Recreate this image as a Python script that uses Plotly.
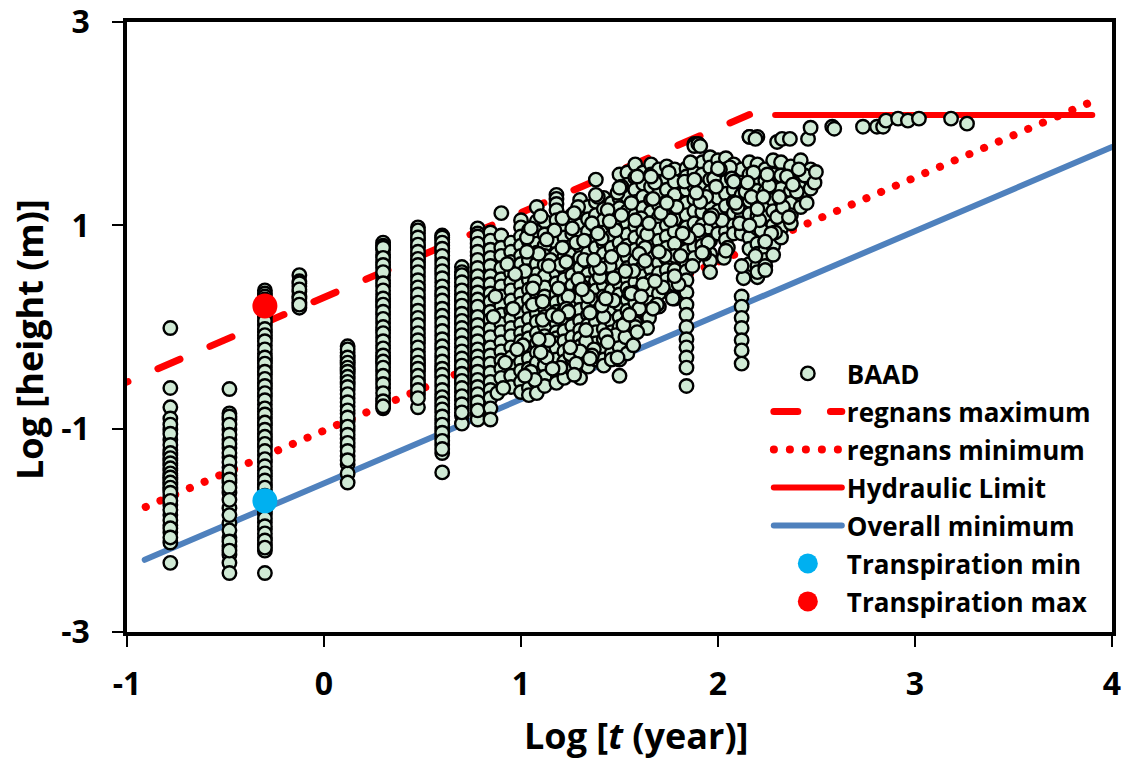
import plotly.graph_objects as go

# column positions (log t) and heights (log m)
t_values = [-0.78, -0.48, -0.30, -0.125, 0.12, 0.30, 0.477, 0.60, 0.70, 0.78]
h_a = [-0.01, -0.60, -0.79, -0.90, -1.01, -1.11, -1.21, -1.26, -1.31, -1.36, -1.41, -1.46, -1.50, -1.55, -1.60, -1.67, -1.75, -1.85, -1.95, -2.02, -2.12, -2.32,
       -0.96, -1.05, -1.16, -1.24, -1.29, -1.34, -1.39, -1.44, -1.48, -1.53, -1.58, -1.63, -1.71, -1.80, -1.90, -1.98, -2.07]
h_b = [-0.61, -0.85, -0.91, -1.01, -1.11, -1.19, -1.28, -1.38, -1.46, -1.53, -1.63, -1.78, -1.93, -2.07, -2.16, -2.24, -2.32, -2.42,
       -0.88, -0.96, -1.06, -1.15, -1.24, -1.33, -1.42, -1.50, -1.58, -1.70, -1.85, -2.00, -2.11, -2.20]
h_c = [0.36, 0.33, 0.30, 0.27, 0.10, 0.02, -0.05, -0.11, -0.18, -0.26, -0.33, -0.40, -0.47, -0.55, -0.61, -0.68, -0.76, -0.83, -0.90, -0.97, -1.05, -1.11, -1.18, -1.26, -1.33, -1.41, -1.47, -1.55, -1.62, -1.69, -1.77, -1.84, -1.92, -1.99, -2.07, -2.14, -2.20, -2.42,
       0.24, 0.18, 0.14, 0.06, -0.02, -0.08, -0.14, -0.22, -0.30, -0.36, -0.44, -0.51, -0.58, -0.65, -0.72, -0.80, -0.86, -0.94, -1.01, -1.08, -1.15, -1.22, -1.30, -1.37, -1.44, -1.51, -1.58, -1.66, -1.73, -1.81, -1.88, -1.96, -2.03, -2.10, -2.17]
h_d = [0.51, 0.45, 0.40, 0.35, 0.30, 0.24, 0.19, 0.43, 0.37, 0.28, 0.22]
h_e = [-0.19, -0.25, -0.28, -0.33, -0.37, -0.42, -0.46, -0.51, -0.56, -0.62, -0.70, -0.78, -0.85, -0.93, -1.02, -1.10, -1.18, -1.27, -1.35, -1.44, -1.53,
       -0.22, -0.30, -0.35, -0.40, -0.44, -0.49, -0.54, -0.59, -0.66, -0.74, -0.82, -0.89, -0.98, -1.06, -1.14, -1.22, -1.31]
h_f = [0.83, 0.80, 0.76, 0.71, 0.64, 0.58, 0.51, 0.46, 0.40, 0.32, 0.25, 0.19, 0.12, 0.04, -0.03, -0.10, -0.18, -0.25, -0.31, -0.36, -0.44, -0.52, -0.60, -0.70, -0.76, -0.80,
       0.78, 0.68, 0.61, 0.54, 0.43, 0.36, 0.28, 0.22, 0.15, 0.08, 0.00, -0.06, -0.14, -0.21, -0.28, -0.34, -0.40, -0.48, -0.56, -0.65, -0.73, -0.78]
h_g = [0.98, 0.92, 0.85, 0.78, 0.70, 0.64, 0.58, 0.50, 0.42, 0.36, 0.28, 0.20, 0.12, 0.06, -0.02, -0.10, -0.16, -0.24, -0.32, -0.38, -0.44, -0.52, -0.58, -0.66, -0.79,
       0.95, 0.88, 0.81, 0.74, 0.67, 0.61, 0.54, 0.46, 0.39, 0.32, 0.24, 0.16, 0.09, 0.02, -0.06, -0.13, -0.20, -0.28, -0.35, -0.41, -0.48, -0.55, -0.62, -0.70]
h_h = [0.90, 0.86, 0.80, 0.74, 0.66, 0.58, 0.52, 0.44, 0.36, 0.30, 0.22, 0.14, 0.08, 0.00, -0.08, -0.16, -0.22, -0.30, -0.38, -0.44, -0.50, -0.58, -0.66, -0.72, -0.78, -0.84, -0.92, -1.00, -1.08, -1.16, -1.24, -1.43,
       0.88, 0.83, 0.77, 0.70, 0.62, 0.55, 0.48, 0.40, 0.33, 0.26, 0.18, 0.11, 0.04, -0.04, -0.12, -0.19, -0.26, -0.34, -0.41, -0.47, -0.54, -0.62, -0.69, -0.75, -0.81, -0.88, -0.96, -1.04, -1.12, -1.20]
h_i = [0.59, 0.54, 0.48, 0.40, 0.32, 0.25, 0.17, 0.10, 0.03, -0.05, -0.12, -0.20, -0.28, -0.34, -0.42, -0.50, -0.56, -0.64, -0.72, -0.80, -0.87, -0.95,
       0.51, 0.44, 0.36, 0.28, 0.21, 0.13, 0.06, -0.01, -0.08, -0.16, -0.24, -0.31, -0.38, -0.46, -0.53, -0.60, -0.68, -0.76, -0.84]
h_j = [0.97, 0.92, 0.86, 0.78, 0.70, 0.62, 0.55, 0.46, 0.38, 0.30, 0.24, 0.15, 0.06, -0.02, -0.10, -0.18, -0.26, -0.32, -0.40, -0.48, -0.56, -0.62, -0.70, -0.78, -0.85, -0.91,
       0.89, 0.82, 0.74, 0.66, 0.58, 0.50, 0.42, 0.34, 0.27, 0.20, 0.10, 0.02, -0.06, -0.14, -0.22, -0.29, -0.36, -0.44, -0.52, -0.59, -0.66, -0.74, -0.82]

dense_t = [0.845, 0.90, 0.95, 1.00, 1.04, 1.08, 1.12, 1.18, 1.22, 1.26, 1.30, 1.34, 1.38, 1.42, 1.46, 1.50, 1.54, 1.58, 1.62, 1.66, 1.70, 1.74, 1.78, 1.84, 1.88, 1.92, 1.96, 2.00, 2.04, 2.08, 2.12, 2.16, 2.20, 2.24, 2.28, 2.32, 2.37, 2.42, 2.47]
d00 = [0.93, 0.85, 0.76, 0.68, 0.60, 0.50, 0.42, 0.33, 0.25, 0.15, 0.07, -0.02, -0.10, -0.20, -0.28, -0.36, -0.45, -0.54, -0.62, -0.70, -0.80, -0.91]
d01 = [1.12, 0.90, 0.78, 0.70, 0.58, 0.47, 0.40, 0.30, 0.21, 0.12, 0.03, -0.05, -0.15, -0.24, -0.33, -0.41, -0.50]
d02 = [0.83, 0.74, 0.64, 0.53, 0.44, 0.36, 0.26, 0.16, 0.08, -0.01, -0.09, -0.20, -0.30, -0.39, -0.48, -0.59]
d03 = [1.05, 0.98, 0.89, 0.80, 0.70, 0.62, 0.50, 0.41, 0.32, 0.23, 0.12, 0.03, -0.06, -0.14, -0.24, -0.34, -0.43, -0.54, -0.64]
d04 = [0.95, 0.84, 0.75, 0.66, 0.55, 0.46, 0.37, 0.27, 0.18, 0.08, -0.03, -0.11, -0.21, -0.31, -0.41, -0.50, -0.60, -0.67]
d05 = [1.18, 1.04, 0.94, 0.82, 0.73, 0.62, 0.52, 0.42, 0.33, 0.23, 0.13, 0.05, -0.06, -0.16, -0.25, -0.35, -0.46, -0.55, -0.65]
d06 = [1.04, 0.91, 0.80, 0.70, 0.61, 0.50, 0.39, 0.30, 0.19, 0.10, 0.01, -0.09, -0.19, -0.30, -0.38, -0.49, -0.58]
d07 = [1.30, 1.26, 1.21, 1.15, 1.05, 0.92, 0.83, 0.72, 0.62, 0.53, 0.43, 0.32, 0.24, 0.15, 0.04, -0.05, -0.11, -0.16, -0.21, -0.32, -0.44, -0.55]
d08 = [1.00, 0.88, 0.78, 0.69, 0.57, 0.47, 0.36, 0.27, 0.16, 0.07, -0.04, -0.14, -0.24, -0.34, -0.44, -0.50]
d09 = [1.10, 1.02, 0.92, 0.80, 0.71, 0.62, 0.51, 0.41, 0.30, 0.20, 0.12, 0.01, -0.10, -0.20, -0.31, -0.42]
d10 = [1.25, 1.12, 1.00, 0.90, 0.79, 0.68, 0.58, 0.47, 0.38, 0.28, 0.17, 0.06, -0.03, -0.11, -0.19, -0.29, -0.40, -0.50]
d11 = [1.18, 1.06, 0.94, 0.84, 0.73, 0.63, 0.52, 0.43, 0.32, 0.21, 0.12, 0.02, -0.07, -0.18, -0.29, -0.39]
d12 = [1.45, 1.23, 1.10, 0.98, 0.87, 0.78, 0.66, 0.56, 0.45, 0.36, 0.26, 0.15, 0.05, -0.05, -0.16, -0.24, -0.32]
d13 = [1.27, 1.16, 1.05, 0.93, 0.82, 0.72, 0.61, 0.50, 0.41, 0.30, 0.20, 0.09, -0.02, -0.12, -0.22, -0.32, -0.38]
d14 = [1.22, 1.12, 1.01, 0.89, 0.78, 0.68, 0.57, 0.47, 0.36, 0.26, 0.16, 0.05, -0.05, -0.15, -0.26, -0.32]
d15 = [1.50, 1.27, 1.17, 1.06, 0.95, 0.83, 0.73, 0.63, 0.51, 0.42, 0.32, 0.22, 0.10, 0.00, -0.10, -0.20, -0.32, -0.48]
d16 = [1.52, 1.40, 1.28, 1.14, 1.02, 0.91, 0.80, 0.69, 0.58, 0.47, 0.38, 0.27, 0.16, 0.06, -0.03]
d17 = [1.60, 1.47, 1.35, 1.23, 1.10, 0.99, 0.88, 0.76, 0.65, 0.55, 0.44, 0.34, 0.24, 0.12, 0.04, 0.00]
d18 = [1.52, 1.41, 1.28, 1.17, 1.06, 0.94, 0.83, 0.71, 0.60, 0.50, 0.39, 0.28, 0.17]
d19 = [1.60, 1.50, 1.38, 1.25, 1.13, 1.02, 0.90, 0.79, 0.68, 0.57, 0.46, 0.35, 0.24, 0.17]
d20 = [1.55, 1.43, 1.31, 1.20, 1.08, 0.96, 0.85, 0.74, 0.63, 0.53, 0.43, 0.33, 0.20]
d21 = [1.58, 1.46, 1.35, 1.23, 1.12, 1.00, 0.89, 0.78, 0.67, 0.56, 0.47]
d22 = [1.55, 1.43, 1.30, 1.18, 1.06, 0.94, 0.82, 0.70, 0.56, 0.46, 0.42, 0.28]
d23 = [1.56, 1.48, 1.35, 1.22, 1.10, 0.98, 0.88, 0.75, 0.62, 0.55, 0.46, 0.34, 0.22, 0.12, 0.00, -0.12, -0.20, -0.30, -0.40, -0.58]
d24 = [1.60, 1.80, 1.78, 1.52, 1.38, 1.26, 1.14, 1.02, 0.91, 0.79, 0.68]
d25 = [1.62, 1.50, 1.37, 1.24, 1.13, 1.00, 0.88, 0.80]
d26 = [1.67, 1.57, 1.45, 1.33, 1.21, 1.09, 0.97, 0.85, 0.72, 0.65, 0.54]
d27 = [1.64, 1.52, 1.40, 1.27, 1.14, 1.02, 0.92]
d28 = [1.66, 1.55, 1.43, 1.31, 1.19, 1.06, 0.94, 0.86]
d29 = [1.60, 1.47, 1.35, 1.23, 1.12, 1.00, 0.92]
d30 = [1.55, 1.42, 1.30, 1.18, 1.08, 0.97, 0.92, 0.30, 0.20, 0.09, -0.01, -0.13, -0.23, -0.36]
d31 = [1.87, 1.62, 1.50, 1.37, 1.24, 1.11, 0.99, 0.88, 0.77, 0.62]
d32 = [1.87, 1.60, 1.47, 1.34, 1.22, 1.09, 0.97, 0.82, 0.72, 0.60, 0.49, 0.54]
d33 = [1.55, 1.44, 1.33, 1.20, 1.08, 0.96, 0.84, 0.75, 0.66, 0.60, 0.56]
d34 = [1.64, 1.50, 1.38, 1.25, 1.14, 1.00, 0.88, 0.80, 0.71]
d35 = [1.62, 1.49, 1.36, 1.24, 1.11, 0.97, 0.88]
d36 = [1.58, 1.46, 1.34, 1.22, 1.10, 1.02]
d37 = [1.64, 1.52, 1.42, 1.30, 1.18]
d38 = [1.55, 1.45, 1.36]

# scattered points that break up the column pattern
extra_t = [1.03, 1.07, 1.11, 1.15, 1.21, 1.24, 1.28, 1.33, 1.36, 1.40, 1.44, 1.48, 1.52, 1.56, 1.60, 1.64, 1.68, 1.72, 1.76, 1.81, 1.86, 1.90, 1.94, 1.98, 2.02, 2.06, 2.10, 2.14, 2.18, 2.22, 2.26, 2.30, 2.35, 2.40, 2.44,
           1.02, 1.09, 1.13, 1.17, 1.23, 1.29, 1.31, 1.37, 1.41, 1.47, 1.49, 1.53, 1.57, 1.61, 1.65, 1.67, 1.73, 1.77, 1.79, 1.83, 1.87, 1.91, 1.95, 1.99, 2.03, 2.07, 2.11, 2.13, 2.17, 2.21, 2.25, 2.29, 2.33, 2.38,
           1.06, 1.10, 1.16, 1.20, 1.25, 1.27, 1.32, 1.35, 1.39, 1.43, 1.45, 1.51, 1.55, 1.59, 1.63, 1.69, 1.71, 1.75, 1.80, 1.85, 1.89, 1.93, 1.97, 2.01, 2.05, 2.09, 2.15, 2.19, 2.23, 2.27, 2.31, 2.36, 2.41, 2.45, 2.49,
           1.05, 1.14, 1.19, 1.26, 1.30, 1.34, 1.38, 1.42, 1.46, 1.50, 1.54, 1.58, 1.62, 1.66, 1.70, 1.74, 1.78, 1.82, 1.88, 1.92, 1.96, 2.00, 2.04, 2.08, 2.12, 2.16, 2.20, 2.24,
           0.87, 0.92, 0.97, 1.01, 1.06, 1.10, 1.14, 1.20, 1.24, 1.28, 1.32, 1.36, 1.40, 1.44, 1.48, 1.52, 1.56, 1.60, 1.64, 1.68,
           0.88, 0.93, 0.98, 1.03, 1.07, 1.11, 1.16, 1.21, 1.25, 1.29, 1.33, 1.37, 1.41, 1.45, 1.49, 1.53, 1.57, 1.61, 1.65, 1.69,
           0.86, 0.91, 0.96, 1.02, 1.05, 1.09, 1.13, 1.19, 1.23, 1.27, 1.31, 1.35, 1.39, 1.43, 1.47, 1.51, 1.55, 1.59, 1.63, 1.67]
extra_h = [0.88, 0.45, 0.07, 0.66, 1.07, 0.30, 0.83, -0.14, 1.02, 0.49, 1.15, -0.08, 0.76, 1.22, 0.18, 0.91, 1.42, 0.39, 1.05, 0.70, 1.62, 0.95, 1.28, 1.46, 1.05, 1.57, 1.18, 1.33, 1.52, 0.95, 1.39, 1.08, 1.48, 1.33, 1.49,
           0.55, 0.72, -0.30, 0.95, 0.18, 1.18, 0.40, -0.22, 0.87, 0.26, 1.32, -0.10, 0.55, 1.07, 0.09, 1.26, 0.70, 0.28, 1.18, 1.43, 0.60, 1.23, 0.83, 1.38, 0.68, 1.46, 1.02, 0.48, 1.28, 1.05, 1.50, 0.93, 1.18, 1.40,
           0.22, 1.09, 0.12, 0.61, -0.27, 1.12, 0.66, 0.14, 1.28, -0.08, 0.60, 1.38, 0.33, 1.48, 0.78, 0.22, 1.12, 1.52, 0.42, 0.88, 1.32, 0.72, 1.10, 1.55, 0.78, 1.22, 1.42, 0.70, 1.28, 0.92, 1.28, 1.08, 1.55, 1.22, 1.42,
           -0.44, -0.13, 0.38, 0.97, -0.24, 0.30, 1.30, 0.10, 0.69, 1.37, -0.26, 1.05, 0.42, 1.48, 0.74, 1.22, 0.50, 0.92, 1.45, 0.73, 1.07, 1.56, 0.75, 1.43, 0.60, 1.00, 1.16, 0.84,
           0.30, -0.35, 0.52, -0.18, 0.38, -0.25, 0.60, -0.40, 0.15, -0.36, 0.85, -0.28, 0.58, -0.15, 0.95, 0.02, 0.33, 0.72, -0.01, 0.45,
           -0.65, 0.62, -0.22, 0.74, -0.52, 0.25, -0.41, 0.78, -0.20, 0.47, -0.03, 0.66, 0.21, 1.04, -0.30, 0.55, -0.18, 0.30, 1.02, 0.22,
           0.10, -0.60, 0.18, -0.48, 0.97, -0.12, 0.86, 0.10, 0.64, -0.47, 0.37, -0.31, 0.92, 0.28, 0.48, 1.10, 0.12, -0.05, 0.65, 0.18]

top_t = [1.90, 1.91, 2.16, 2.19, 2.30, 2.325, 2.365, 2.457, 2.47, 2.58, 2.59, 2.736, 2.807, 2.838, 2.853, 2.914, 2.964, 3.02, 3.183, 3.264, 2.497]
top_h = [1.80, 1.78, 1.87, 1.85, 1.82, 1.85, 1.85, 1.85, 1.96, 1.97, 1.95, 1.97, 1.97, 1.97, 2.03, 2.05, 2.03, 2.05, 2.05, 2.00, 1.525]

column_lists = [h_a, h_b, h_c, h_d, h_e, h_f, h_g, h_h, h_i, h_j]
dense_lists = [d00, d01, d02, d03, d04, d05, d06, d07, d08, d09, d10, d11, d12, d13, d14, d15, d16, d17, d18, d19,
               d20, d21, d22, d23, d24, d25, d26, d27, d28, d29, d30, d31, d32, d33, d34, d35, d36, d37, d38]

max_t, max_h = [-1.107, 2.16], [-0.63, 2.09]
min_t, min_h = [-0.905, 3.89], [-1.77, 2.21]
hyd_t, hyd_h = [2.29, 3.90], [2.085, 2.085]
all_t, all_h = [-0.91, 4], [-2.29, 1.77]
tmin_t, tmin_h = [-0.30], [-1.71]
tmax_t, tmax_h = [-0.30], [0.207]

x_ticks = [-1, 0, 1, 2, 3, 4]
x_labels = ["-1", "0", "1", "2", "3", "4"]
y_ticks = [-3, -1, 1, 3]
y_labels = ["-3", "-1", "1", "3"]

baad_t, baad_h = [], []
for t, hs in zip(t_values + dense_t, column_lists + dense_lists):
    baad_t += [t] * len(hs)
    baad_h += hs
baad_t += extra_t + top_t
baad_h += extra_h + top_h

FONT = "Open Sans, sans-serif"
fig = go.Figure()
def line(name, x, y, color, dash, rank, width):
    fig.add_trace(go.Scatter(x=x, y=y, mode="lines", name=name, legendrank=rank, legendgroup=name,
                             line=dict(color=color, width=width, dash=dash)))
line("regnans maximum", max_t, max_h, "#FF0000", "24px,32.6px", 2, 7)
line("regnans minimum", min_t, min_h, "#FF0000", "0.1px,15.9px", 3, 8)
line("Hydraulic Limit", hyd_t, hyd_h, "#FF0000", "solid", 4, 6)
line("Overall minimum", all_t, all_h, "#4F81BD", "solid", 5, 6)
fig.add_trace(go.Scatter(x=baad_t, y=baad_h, mode="markers", name="BAAD", legendrank=1, legendgroup="BAAD",
                         marker=dict(size=13.5, color="#D0EAD5", line=dict(color="#000000", width=2.4))))
fig.add_trace(go.Scatter(x=tmin_t, y=tmin_h, mode="markers", name="Transpiration min", legendrank=6, legendgroup="tmin",
                         marker=dict(size=25, color="#00B0F0")))
fig.add_trace(go.Scatter(x=tmax_t, y=tmax_h, mode="markers", name="Transpiration max", legendrank=7, legendgroup="tmax",
                         marker=dict(size=25, color="#FF0000")))

axis = dict(showgrid=False, zeroline=False, showline=True, linecolor="#000000", linewidth=3.5, mirror=True,
            ticks="outside", ticklen=11, tickwidth=2, tickcolor="#000000", automargin=False,
            ticklabeloverflow="allow", tickfont=dict(family=FONT, size=32, color="#000000", weight="bold"))
title_font = dict(family=FONT, size=36, color="#000000", weight="bold")
fig.update_layout(
    width=1126, height=760, autosize=False, paper_bgcolor="#FFFFFF", plot_bgcolor="#FFFFFF",
    margin=dict(l=127, r=14, t=22, b=128),
    font=dict(family=FONT, color="#000000"),
    xaxis=dict(axis, range=[-1, 4], tickvals=x_ticks, ticktext=x_labels, ticklabelstandoff=10),
    yaxis=dict(axis, range=[-3, 3], tickvals=y_ticks, ticktext=y_labels, ticklabelstandoff=16),
    legend=dict(x=0.6516, y=0.4623, xanchor="left", yanchor="top", bgcolor="rgba(0,0,0,0)", itemwidth=68,
                tracegroupgap=1.2, font=dict(family=FONT, size=26, color="#000000", weight="bold")),
    annotations=[
        dict(text="Log [<i>t</i> (year)]", xref="paper", yref="paper", x=(636-127)/985, y=-(735-632)/610,
             xanchor="center", yanchor="middle", showarrow=False, font=title_font),
        dict(text="Log [height (m)]", xref="paper", yref="paper", x=-(127-29)/985, y=(632-340)/610,
             xanchor="center", yanchor="middle", showarrow=False, textangle=-90, font=title_font),
    ],
)
post = """
document.documentElement.style.overflow='hidden';
document.body.style.margin='0';
document.querySelectorAll('.js-line').forEach(function(e){e.style.strokeLinecap='round';});
document.querySelectorAll('.legend .traces').forEach(function(g){
  var t=g.querySelector('.legendtext');
  if(t && t.textContent.indexOf('Transpiration')===0){
    g.querySelectorAll('.scatterpts').forEach(function(p){
      p.setAttribute('transform',(p.getAttribute('transform')||'')+' scale(1.25)');
    });
  }
});
"""
fig.write_html("out.html", post_script=post, config={"displayModeBar": False})
